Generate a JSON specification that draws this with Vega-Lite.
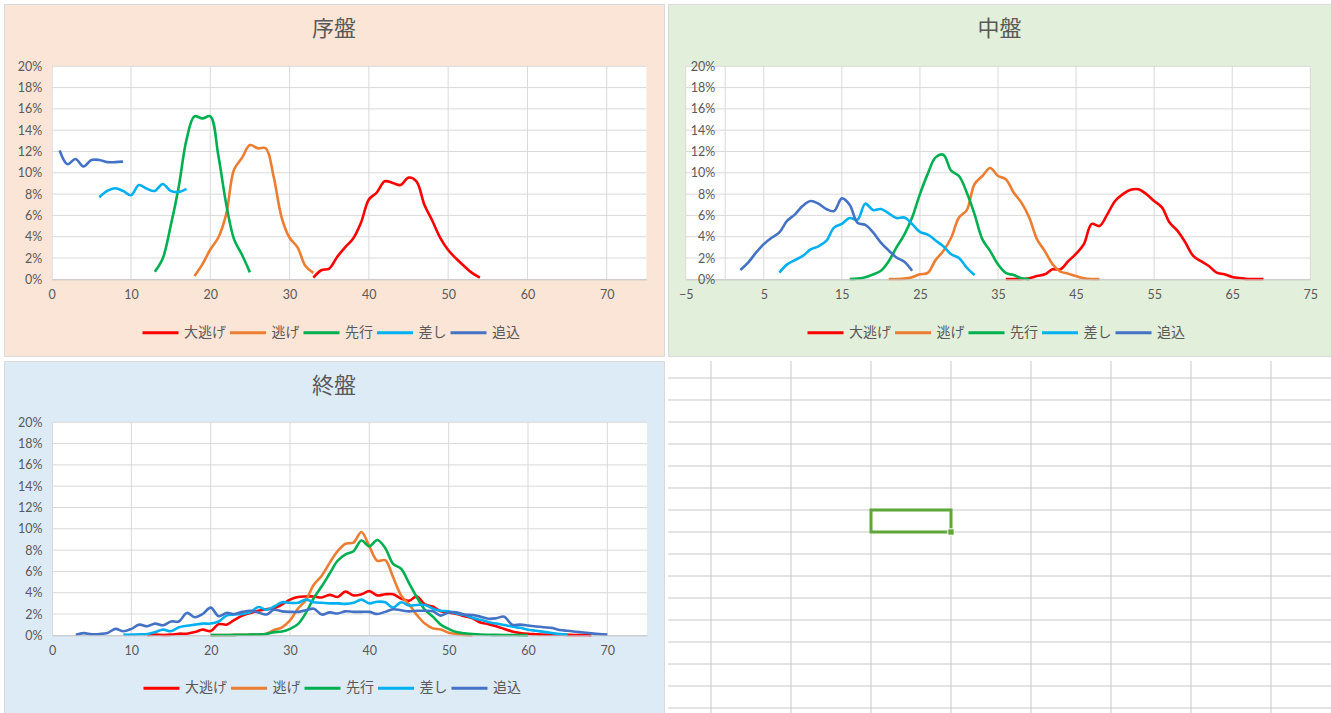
{
"$schema": "https://vega.github.io/schema/vega-lite/v6.json",
"background": "white",
"padding": {"left": 3, "top": 3, "right": 0, "bottom": 0},
"spacing": 3,
"resolve": {"scale": {"color": "independent"}, "legend": {"color": "independent"}},
"config": {
  "axis": {"grid": false, "ticks": false, "labelFont": "Lato", "labelFontSize": 12.5, "labelColor": "#595959", "domainColor": "#BFBFBF", "labelOverlap": false},
  "axisX": {"labelPadding": 9, "labelFlush": false},
  "axisY": {"labelPadding": 10, "domainColor": "#D9D9D9"},
  "legend": {"orient": "none", "direction": "horizontal", "columns": 5, "symbolType": "stroke", "symbolSize": 1296, "symbolStrokeWidth": 3, "labelFont": "Noto Sans CJK JP", "labelFontSize": 14, "labelColor": "#595959", "labelOffset": 4, "columnPadding": -2.5, "padding": 0},
  "title": {"font": "Noto Sans CJK JP", "fontSize": 22, "fontWeight": "normal", "color": "#595959", "baseline": "middle", "offset": -37, "anchor": "middle"}
},
"datasets": {
"s1": [
{"s":"大逃げ","x":33,"p":0.15},{"s":"大逃げ","x":34,"p":0.85},{"s":"大逃げ","x":35,"p":1.0},{"s":"大逃げ","x":36,"p":2.1},{"s":"大逃げ","x":37,"p":3.0},{"s":"大逃げ","x":38,"p":3.8},{"s":"大逃げ","x":39,"p":5.3},{"s":"大逃げ","x":40,"p":7.5},{"s":"大逃げ","x":41,"p":8.15},{"s":"大逃げ","x":42,"p":9.2},{"s":"大逃げ","x":43,"p":9.05},{"s":"大逃げ","x":44,"p":8.85},{"s":"大逃げ","x":45,"p":9.55},{"s":"大逃げ","x":46,"p":9.2},{"s":"大逃げ","x":47,"p":7.0},{"s":"大逃げ","x":48,"p":5.5},{"s":"大逃げ","x":49,"p":3.9},{"s":"大逃げ","x":50,"p":2.75},{"s":"大逃げ","x":51,"p":1.95},{"s":"大逃げ","x":52,"p":1.25},{"s":"大逃げ","x":53,"p":0.6},{"s":"大逃げ","x":54,"p":0.15},
{"s":"逃げ","x":18,"p":0.3},{"s":"逃げ","x":19,"p":1.4},{"s":"逃げ","x":20,"p":2.8},{"s":"逃げ","x":21,"p":3.9},{"s":"逃げ","x":22,"p":6.1},{"s":"逃げ","x":23,"p":10.3},{"s":"逃げ","x":24,"p":11.4},{"s":"逃げ","x":25,"p":12.6},{"s":"逃げ","x":26,"p":12.3},{"s":"逃げ","x":27,"p":12.3},{"s":"逃げ","x":28,"p":9.6},{"s":"逃げ","x":29,"p":5.8},{"s":"逃げ","x":30,"p":3.9},{"s":"逃げ","x":31,"p":3.0},{"s":"逃げ","x":32,"p":1.25},{"s":"逃げ","x":33,"p":0.6},
{"s":"先行","x":13,"p":0.7},{"s":"先行","x":14,"p":1.95},{"s":"先行","x":15,"p":5.0},{"s":"先行","x":16,"p":8.6},{"s":"先行","x":17,"p":13.1},{"s":"先行","x":18,"p":15.3},{"s":"先行","x":19,"p":15.1},{"s":"先行","x":20,"p":15.3},{"s":"先行","x":21,"p":11.7},{"s":"先行","x":22,"p":7.1},{"s":"先行","x":23,"p":3.75},{"s":"先行","x":24,"p":2.3},{"s":"先行","x":25,"p":0.65},
{"s":"差し","x":6,"p":7.7},{"s":"差し","x":7,"p":8.3},{"s":"差し","x":8,"p":8.55},{"s":"差し","x":9,"p":8.3},{"s":"差し","x":10,"p":7.9},{"s":"差し","x":11,"p":8.85},{"s":"差し","x":12,"p":8.5},{"s":"差し","x":13,"p":8.3},{"s":"差し","x":14,"p":8.95},{"s":"差し","x":15,"p":8.3},{"s":"差し","x":16,"p":8.2},{"s":"差し","x":17,"p":8.5},
{"s":"追込","x":1,"p":12.1},{"s":"追込","x":2,"p":10.8},{"s":"追込","x":3,"p":11.3},{"s":"追込","x":4,"p":10.6},{"s":"追込","x":5,"p":11.2},{"s":"追込","x":6,"p":11.2},{"s":"追込","x":7,"p":11.0},{"s":"追込","x":8,"p":11.0},{"s":"追込","x":9,"p":11.05}
],
"s2": [
{"s":"大逃げ","x":36,"p":0.03},{"s":"大逃げ","x":37,"p":0.03},{"s":"大逃げ","x":38,"p":0.03},{"s":"大逃げ","x":39,"p":0.1},{"s":"大逃げ","x":40,"p":0.3},{"s":"大逃げ","x":41,"p":0.47},{"s":"大逃げ","x":42,"p":0.94},{"s":"大逃げ","x":43,"p":0.94},{"s":"大逃げ","x":44,"p":1.7},{"s":"大逃げ","x":45,"p":2.4},{"s":"大逃げ","x":46,"p":3.3},{"s":"大逃げ","x":47,"p":5.2},{"s":"大逃げ","x":48,"p":5.0},{"s":"大逃げ","x":49,"p":6.1},{"s":"大逃げ","x":50,"p":7.35},{"s":"大逃げ","x":51,"p":8.0},{"s":"大逃げ","x":52,"p":8.4},{"s":"大逃げ","x":53,"p":8.45},{"s":"大逃げ","x":54,"p":8.0},{"s":"大逃げ","x":55,"p":7.35},{"s":"大逃げ","x":56,"p":6.75},{"s":"大逃げ","x":57,"p":5.3},{"s":"大逃げ","x":58,"p":4.55},{"s":"大逃げ","x":59,"p":3.45},{"s":"大逃げ","x":60,"p":2.2},{"s":"大逃げ","x":61,"p":1.7},{"s":"大逃げ","x":62,"p":1.25},{"s":"大逃げ","x":63,"p":0.63},{"s":"大逃げ","x":64,"p":0.47},{"s":"大逃げ","x":65,"p":0.22},{"s":"大逃げ","x":66,"p":0.12},{"s":"大逃げ","x":67,"p":0.03},{"s":"大逃げ","x":68,"p":0.03},{"s":"大逃げ","x":69,"p":0.03},
{"s":"逃げ","x":21,"p":0.03},{"s":"逃げ","x":22,"p":0.03},{"s":"逃げ","x":23,"p":0.06},{"s":"逃げ","x":24,"p":0.2},{"s":"逃げ","x":25,"p":0.47},{"s":"逃げ","x":26,"p":0.6},{"s":"逃げ","x":27,"p":1.8},{"s":"逃げ","x":28,"p":2.65},{"s":"逃げ","x":29,"p":3.9},{"s":"逃げ","x":30,"p":5.8},{"s":"逃げ","x":31,"p":6.5},{"s":"逃げ","x":32,"p":8.95},{"s":"逃げ","x":33,"p":9.7},{"s":"逃げ","x":34,"p":10.45},{"s":"逃げ","x":35,"p":9.7},{"s":"逃げ","x":36,"p":9.4},{"s":"逃げ","x":37,"p":8.15},{"s":"逃げ","x":38,"p":7.2},{"s":"逃げ","x":39,"p":5.8},{"s":"逃げ","x":40,"p":3.75},{"s":"逃げ","x":41,"p":2.65},{"s":"逃げ","x":42,"p":1.4},{"s":"逃げ","x":43,"p":0.72},{"s":"逃げ","x":44,"p":0.53},{"s":"逃げ","x":45,"p":0.3},{"s":"逃げ","x":46,"p":0.1},{"s":"逃げ","x":47,"p":0.03},{"s":"逃げ","x":48,"p":0.03},
{"s":"先行","x":16,"p":0.03},{"s":"先行","x":17,"p":0.06},{"s":"先行","x":18,"p":0.2},{"s":"先行","x":19,"p":0.45},{"s":"先行","x":20,"p":0.8},{"s":"先行","x":21,"p":1.7},{"s":"先行","x":22,"p":3.0},{"s":"先行","x":23,"p":4.2},{"s":"先行","x":24,"p":5.8},{"s":"先行","x":25,"p":8.0},{"s":"先行","x":26,"p":9.9},{"s":"先行","x":27,"p":11.45},{"s":"先行","x":28,"p":11.7},{"s":"先行","x":29,"p":10.2},{"s":"先行","x":30,"p":9.7},{"s":"先行","x":31,"p":8.15},{"s":"先行","x":32,"p":6.1},{"s":"先行","x":33,"p":3.75},{"s":"先行","x":34,"p":2.65},{"s":"先行","x":35,"p":1.4},{"s":"先行","x":36,"p":0.6},{"s":"先行","x":37,"p":0.4},{"s":"先行","x":38,"p":0.1},{"s":"先行","x":39,"p":0.02},
{"s":"差し","x":7,"p":0.63},{"s":"差し","x":8,"p":1.4},{"s":"差し","x":9,"p":1.8},{"s":"差し","x":10,"p":2.2},{"s":"差し","x":11,"p":2.8},{"s":"差し","x":12,"p":3.1},{"s":"差し","x":13,"p":3.6},{"s":"差し","x":14,"p":4.85},{"s":"差し","x":15,"p":5.2},{"s":"差し","x":16,"p":5.75},{"s":"差し","x":17,"p":5.6},{"s":"差し","x":18,"p":7.1},{"s":"差し","x":19,"p":6.5},{"s":"差し","x":20,"p":6.6},{"s":"差し","x":21,"p":6.2},{"s":"差し","x":22,"p":5.75},{"s":"差し","x":23,"p":5.8},{"s":"差し","x":24,"p":5.2},{"s":"差し","x":25,"p":4.45},{"s":"差し","x":26,"p":4.2},{"s":"差し","x":27,"p":3.65},{"s":"差し","x":28,"p":3.1},{"s":"差し","x":29,"p":2.35},{"s":"差し","x":30,"p":2.0},{"s":"差し","x":31,"p":1.1},{"s":"差し","x":32,"p":0.4},
{"s":"追込","x":2,"p":0.88},{"s":"追込","x":3,"p":1.57},{"s":"追込","x":4,"p":2.5},{"s":"追込","x":5,"p":3.3},{"s":"追込","x":6,"p":3.9},{"s":"追込","x":7,"p":4.4},{"s":"追込","x":8,"p":5.5},{"s":"追込","x":9,"p":6.1},{"s":"追込","x":10,"p":6.9},{"s":"追込","x":11,"p":7.35},{"s":"追込","x":12,"p":7.1},{"s":"追込","x":13,"p":6.6},{"s":"追込","x":14,"p":6.4},{"s":"追込","x":15,"p":7.6},{"s":"追込","x":16,"p":7.0},{"s":"追込","x":17,"p":5.3},{"s":"追込","x":18,"p":5.1},{"s":"追込","x":19,"p":4.4},{"s":"追込","x":20,"p":3.45},{"s":"追込","x":21,"p":2.7},{"s":"追込","x":22,"p":2.05},{"s":"追込","x":23,"p":1.65},{"s":"追込","x":24,"p":0.8}
],
"s3": [
{"s":"大逃げ","x":12,"p":0.03},{"s":"大逃げ","x":13,"p":0.06},{"s":"大逃げ","x":14,"p":0.03},{"s":"大逃げ","x":15,"p":0.06},{"s":"大逃げ","x":16,"p":0.15},{"s":"大逃げ","x":17,"p":0.15},{"s":"大逃げ","x":18,"p":0.3},{"s":"大逃げ","x":19,"p":0.53},{"s":"大逃げ","x":20,"p":0.4},{"s":"大逃げ","x":21,"p":1.05},{"s":"大逃げ","x":22,"p":1.0},{"s":"大逃げ","x":23,"p":1.45},{"s":"大逃げ","x":24,"p":1.85},{"s":"大逃げ","x":25,"p":2.1},{"s":"大逃げ","x":26,"p":2.3},{"s":"大逃げ","x":27,"p":2.45},{"s":"大逃げ","x":28,"p":2.55},{"s":"大逃げ","x":29,"p":2.9},{"s":"大逃げ","x":30,"p":3.35},{"s":"大逃げ","x":31,"p":3.6},{"s":"大逃げ","x":32,"p":3.65},{"s":"大逃げ","x":33,"p":3.65},{"s":"大逃げ","x":34,"p":3.55},{"s":"大逃げ","x":35,"p":3.8},{"s":"大逃げ","x":36,"p":3.6},{"s":"大逃げ","x":37,"p":4.1},{"s":"大逃げ","x":38,"p":3.75},{"s":"大逃げ","x":39,"p":3.85},{"s":"大逃げ","x":40,"p":4.15},{"s":"大逃げ","x":41,"p":3.75},{"s":"大逃げ","x":42,"p":3.85},{"s":"大逃げ","x":43,"p":3.85},{"s":"大逃げ","x":44,"p":3.45},{"s":"大逃げ","x":45,"p":3.25},{"s":"大逃げ","x":46,"p":3.65},{"s":"大逃げ","x":47,"p":2.9},{"s":"大逃げ","x":48,"p":2.7},{"s":"大逃げ","x":49,"p":2.25},{"s":"大逃げ","x":50,"p":2.15},{"s":"大逃げ","x":51,"p":2.0},{"s":"大逃げ","x":52,"p":1.8},{"s":"大逃げ","x":53,"p":1.6},{"s":"大逃げ","x":54,"p":1.2},{"s":"大逃げ","x":55,"p":1.05},{"s":"大逃げ","x":56,"p":0.85},{"s":"大逃げ","x":57,"p":0.6},{"s":"大逃げ","x":58,"p":0.36},{"s":"大逃げ","x":59,"p":0.22},{"s":"大逃げ","x":60,"p":0.14},{"s":"大逃げ","x":61,"p":0.1},{"s":"大逃げ","x":62,"p":0.06},{"s":"大逃げ","x":63,"p":0.05},{"s":"大逃げ","x":64,"p":0.05},{"s":"大逃げ","x":65,"p":0.04},{"s":"大逃げ","x":66,"p":0.03},{"s":"大逃げ","x":67,"p":0.03},{"s":"大逃げ","x":68,"p":0.02},
{"s":"逃げ","x":20,"p":0.02},{"s":"逃げ","x":21,"p":0.03},{"s":"逃げ","x":22,"p":0.03},{"s":"逃げ","x":23,"p":0.04},{"s":"逃げ","x":24,"p":0.05},{"s":"逃げ","x":25,"p":0.06},{"s":"逃げ","x":26,"p":0.08},{"s":"逃げ","x":27,"p":0.15},{"s":"逃げ","x":28,"p":0.5},{"s":"逃げ","x":29,"p":0.75},{"s":"逃げ","x":30,"p":1.4},{"s":"逃げ","x":31,"p":2.5},{"s":"逃げ","x":32,"p":3.3},{"s":"逃げ","x":33,"p":4.75},{"s":"逃げ","x":34,"p":5.6},{"s":"逃げ","x":35,"p":6.8},{"s":"逃げ","x":36,"p":7.9},{"s":"逃げ","x":37,"p":8.6},{"s":"逃げ","x":38,"p":8.7},{"s":"逃げ","x":39,"p":9.7},{"s":"逃げ","x":40,"p":8.35},{"s":"逃げ","x":41,"p":7.0},{"s":"逃げ","x":42,"p":7.05},{"s":"逃げ","x":43,"p":5.45},{"s":"逃げ","x":44,"p":3.75},{"s":"逃げ","x":45,"p":2.9},{"s":"逃げ","x":46,"p":1.9},{"s":"逃げ","x":47,"p":1.1},{"s":"逃げ","x":48,"p":0.65},{"s":"逃げ","x":49,"p":0.55},{"s":"逃げ","x":50,"p":0.25},{"s":"逃げ","x":51,"p":0.12},{"s":"逃げ","x":52,"p":0.04},{"s":"逃げ","x":53,"p":0.02},
{"s":"先行","x":20,"p":0.03},{"s":"先行","x":21,"p":0.03},{"s":"先行","x":22,"p":0.03},{"s":"先行","x":23,"p":0.04},{"s":"先行","x":24,"p":0.05},{"s":"先行","x":25,"p":0.06},{"s":"先行","x":26,"p":0.08},{"s":"先行","x":27,"p":0.12},{"s":"先行","x":28,"p":0.3},{"s":"先行","x":29,"p":0.35},{"s":"先行","x":30,"p":0.6},{"s":"先行","x":31,"p":1.05},{"s":"先行","x":32,"p":2.1},{"s":"先行","x":33,"p":3.5},{"s":"先行","x":34,"p":4.6},{"s":"先行","x":35,"p":5.8},{"s":"先行","x":36,"p":7.0},{"s":"先行","x":37,"p":7.6},{"s":"先行","x":38,"p":7.9},{"s":"先行","x":39,"p":8.9},{"s":"先行","x":40,"p":8.35},{"s":"先行","x":41,"p":8.95},{"s":"先行","x":42,"p":8.2},{"s":"先行","x":43,"p":6.7},{"s":"先行","x":44,"p":6.25},{"s":"先行","x":45,"p":4.9},{"s":"先行","x":46,"p":3.55},{"s":"先行","x":47,"p":2.4},{"s":"先行","x":48,"p":1.75},{"s":"先行","x":49,"p":1.0},{"s":"先行","x":50,"p":0.6},{"s":"先行","x":51,"p":0.3},{"s":"先行","x":52,"p":0.2},{"s":"先行","x":53,"p":0.12},{"s":"先行","x":54,"p":0.07},{"s":"先行","x":55,"p":0.05},{"s":"先行","x":56,"p":0.04},{"s":"先行","x":57,"p":0.03},{"s":"先行","x":58,"p":0.03},{"s":"先行","x":59,"p":0.02},{"s":"先行","x":60,"p":0.02},
{"s":"差し","x":9,"p":0.06},{"s":"差し","x":10,"p":0.06},{"s":"差し","x":11,"p":0.1},{"s":"差し","x":12,"p":0.12},{"s":"差し","x":13,"p":0.3},{"s":"差し","x":14,"p":0.53},{"s":"差し","x":15,"p":0.38},{"s":"差し","x":16,"p":0.75},{"s":"差し","x":17,"p":0.9},{"s":"差し","x":18,"p":1.0},{"s":"差し","x":19,"p":1.1},{"s":"差し","x":20,"p":1.1},{"s":"差し","x":21,"p":1.3},{"s":"差し","x":22,"p":1.85},{"s":"差し","x":23,"p":1.95},{"s":"差し","x":24,"p":2.0},{"s":"差し","x":25,"p":2.15},{"s":"差し","x":26,"p":2.65},{"s":"差し","x":27,"p":2.4},{"s":"差し","x":28,"p":2.7},{"s":"差し","x":29,"p":3.1},{"s":"差し","x":30,"p":3.05},{"s":"差し","x":31,"p":3.05},{"s":"差し","x":32,"p":3.35},{"s":"差し","x":33,"p":3.1},{"s":"差し","x":34,"p":3.05},{"s":"差し","x":35,"p":3.0},{"s":"差し","x":36,"p":3.0},{"s":"差し","x":37,"p":2.95},{"s":"差し","x":38,"p":3.05},{"s":"差し","x":39,"p":3.35},{"s":"差し","x":40,"p":3.0},{"s":"差し","x":41,"p":3.15},{"s":"差し","x":42,"p":3.1},{"s":"差し","x":43,"p":2.6},{"s":"差し","x":44,"p":3.1},{"s":"差し","x":45,"p":2.8},{"s":"差し","x":46,"p":2.85},{"s":"差し","x":47,"p":2.85},{"s":"差し","x":48,"p":2.5},{"s":"差し","x":49,"p":2.3},{"s":"差し","x":50,"p":2.25},{"s":"差し","x":51,"p":2.05},{"s":"差し","x":52,"p":1.9},{"s":"差し","x":53,"p":1.65},{"s":"差し","x":54,"p":1.45},{"s":"差し","x":55,"p":1.25},{"s":"差し","x":56,"p":1.1},{"s":"差し","x":57,"p":0.97},{"s":"差し","x":58,"p":0.82},{"s":"差し","x":59,"p":0.7},{"s":"差し","x":60,"p":0.53},{"s":"差し","x":61,"p":0.43},{"s":"差し","x":62,"p":0.32},{"s":"差し","x":63,"p":0.21},{"s":"差し","x":64,"p":0.11},{"s":"差し","x":65,"p":0.06},
{"s":"追込","x":3,"p":0.05},{"s":"追込","x":4,"p":0.2},{"s":"追込","x":5,"p":0.1},{"s":"追込","x":6,"p":0.12},{"s":"追込","x":7,"p":0.22},{"s":"追込","x":8,"p":0.6},{"s":"追込","x":9,"p":0.38},{"s":"追込","x":10,"p":0.6},{"s":"追込","x":11,"p":1.0},{"s":"追込","x":12,"p":0.85},{"s":"追込","x":13,"p":1.1},{"s":"追込","x":14,"p":0.94},{"s":"追込","x":15,"p":1.3},{"s":"追込","x":16,"p":1.3},{"s":"追込","x":17,"p":2.1},{"s":"追込","x":18,"p":1.7},{"s":"追込","x":19,"p":2.0},{"s":"追込","x":20,"p":2.6},{"s":"追込","x":21,"p":1.8},{"s":"追込","x":22,"p":2.1},{"s":"追込","x":23,"p":2.0},{"s":"追込","x":24,"p":2.2},{"s":"追込","x":25,"p":2.3},{"s":"追込","x":26,"p":2.15},{"s":"追込","x":27,"p":1.95},{"s":"追込","x":28,"p":2.4},{"s":"追込","x":29,"p":2.25},{"s":"追込","x":30,"p":2.2},{"s":"追込","x":31,"p":2.2},{"s":"追込","x":32,"p":2.35},{"s":"追込","x":33,"p":2.5},{"s":"追込","x":34,"p":1.95},{"s":"追込","x":35,"p":2.15},{"s":"追込","x":36,"p":2.05},{"s":"追込","x":37,"p":2.25},{"s":"追込","x":38,"p":2.2},{"s":"追込","x":39,"p":2.2},{"s":"追込","x":40,"p":2.2},{"s":"追込","x":41,"p":2.0},{"s":"追込","x":42,"p":2.2},{"s":"追込","x":43,"p":2.45},{"s":"追込","x":44,"p":2.35},{"s":"追込","x":45,"p":2.25},{"s":"追込","x":46,"p":2.3},{"s":"追込","x":47,"p":2.3},{"s":"追込","x":48,"p":2.25},{"s":"追込","x":49,"p":1.85},{"s":"追込","x":50,"p":2.15},{"s":"追込","x":51,"p":2.15},{"s":"追込","x":52,"p":1.95},{"s":"追込","x":53,"p":1.9},{"s":"追込","x":54,"p":1.75},{"s":"追込","x":55,"p":1.55},{"s":"追込","x":56,"p":1.6},{"s":"追込","x":57,"p":1.75},{"s":"追込","x":58,"p":1.0},{"s":"追込","x":59,"p":1.0},{"s":"追込","x":60,"p":0.92},{"s":"追込","x":61,"p":0.82},{"s":"追込","x":62,"p":0.75},{"s":"追込","x":63,"p":0.7},{"s":"追込","x":64,"p":0.5},{"s":"追込","x":65,"p":0.42},{"s":"追込","x":66,"p":0.34},{"s":"追込","x":67,"p":0.26},{"s":"追込","x":68,"p":0.18},{"s":"追込","x":69,"p":0.11},{"s":"追込","x":70,"p":0.06}
]
},
"vconcat": [
{"spacing": 2, "resolve": {"scale": {"color": "independent"}, "legend": {"color": "independent"}}, "hconcat": [
{
 "width": 660, "height": 352,
 "view": {"fill": "#FBE5D6", "stroke": "#D9D9D9"},
 "title": "序盤",
 "layer": [
  {"data": {"values": [{}]}, "mark": {"type": "rect", "fill": "#FFFFFF"},
   "encoding": {
    "x": {"datum": 0, "type": "quantitative", "scale": {"domain": [0, 75], "range": [47.7, 642.4], "nice": false, "zero": false}, "axis": {"title": null, "zindex": 1, "offset": -76.7, "values": [0,10,20,30,40,50,60,70]}},
    "x2": {"datum": 75},
    "y": {"datum": 0, "type": "quantitative", "scale": {"domain": [0, 20], "range": [275.3, 62.3], "nice": false, "zero": false}, "axis": {"title": null, "zindex": 1, "offset": -47.7, "values": [0,2,4,6,8,10,12,14,16,18,20], "labelExpr": "datum.value + '%'"}},
    "y2": {"datum": 20}}},
  {"data": {"values": [{"g":10},{"g":20},{"g":30},{"g":40},{"g":50},{"g":60},{"g":70}]}, "mark": {"type": "rule", "color": "#D9D9D9", "strokeWidth": 1},
   "encoding": {
    "x": {"field": "g", "type": "quantitative", "scale": {"domain": [0, 75], "range": [47.7, 642.4], "nice": false, "zero": false}, "axis": {"title": null, "zindex": 1, "offset": -76.7, "values": [0,10,20,30,40,50,60,70]}},
    "y": {"datum": 0, "type": "quantitative", "scale": {"domain": [0, 20], "range": [275.3, 62.3], "nice": false, "zero": false}, "axis": {"title": null, "zindex": 1, "offset": -47.7, "values": [0,2,4,6,8,10,12,14,16,18,20], "labelExpr": "datum.value + '%'"}},
    "y2": {"datum": 20}}},
  {"data": {"values": [{"g":2},{"g":4},{"g":6},{"g":8},{"g":10},{"g":12},{"g":14},{"g":16},{"g":18},{"g":20}]}, "mark": {"type": "rule", "color": "#D9D9D9", "strokeWidth": 1},
   "encoding": {
    "y": {"field": "g", "type": "quantitative", "scale": {"domain": [0, 20], "range": [275.3, 62.3], "nice": false, "zero": false}, "axis": {"title": null, "zindex": 1, "offset": -47.7, "values": [0,2,4,6,8,10,12,14,16,18,20], "labelExpr": "datum.value + '%'"}},
    "x": {"datum": 0, "type": "quantitative", "scale": {"domain": [0, 75], "range": [47.7, 642.4], "nice": false, "zero": false}, "axis": {"title": null, "zindex": 1, "offset": -76.7, "values": [0,10,20,30,40,50,60,70]}},
    "x2": {"datum": 75}}},
  {"data": {"name": "s1"}, "mark": {"type": "line", "strokeWidth": 2.6, "interpolate": "catmull-rom"},
   "encoding": {
    "x": {"field": "x", "type": "quantitative", "scale": {"domain": [0, 75], "range": [47.7, 642.4], "nice": false, "zero": false}, "axis": {"title": null, "zindex": 1, "offset": -76.7, "values": [0,10,20,30,40,50,60,70]}},
    "y": {"field": "p", "type": "quantitative", "scale": {"domain": [0, 20], "range": [275.3, 62.3], "nice": false, "zero": false}, "axis": {"title": null, "zindex": 1, "offset": -47.7, "values": [0,2,4,6,8,10,12,14,16,18,20], "labelExpr": "datum.value + '%'"}},
    "color": {"field": "s", "type": "nominal", "scale": {"domain": ["大逃げ","逃げ","先行","差し","追込"], "range": ["#FF0000","#ED7D31","#00B050","#00B0F0","#4472C4"]}, "legend": {"title": null, "legendX": 137, "legendY": 309}}}}
 ]
},
{
 "width": 663, "height": 352,
 "view": {"fill": "#E2EFDA", "stroke": "#D9D9D9"},
 "title": "中盤",
 "layer": [
  {"data": {"values": [{}]}, "mark": {"type": "rect", "fill": "#FFFFFF"},
   "encoding": {
    "x": {"datum": -5, "type": "quantitative", "scale": {"domain": [-5, 75], "range": [17.7, 642.3], "nice": false, "zero": false}, "axis": {"title": null, "zindex": 1, "offset": -76.7, "values": [-5,5,15,25,35,45,55,65,75]}},
    "x2": {"datum": 75},
    "y": {"datum": 0, "type": "quantitative", "scale": {"domain": [0, 20], "range": [275.3, 62.3], "nice": false, "zero": false}, "axis": {"title": null, "zindex": 1, "offset": -56.7, "values": [0,2,4,6,8,10,12,14,16,18,20], "labelExpr": "datum.value + '%'"}},
    "y2": {"datum": 20}}},
  {"data": {"values": [{"g":-5},{"g":5},{"g":15},{"g":25},{"g":35},{"g":45},{"g":55},{"g":65},{"g":75}]}, "mark": {"type": "rule", "color": "#D9D9D9", "strokeWidth": 1},
   "encoding": {
    "x": {"field": "g", "type": "quantitative", "scale": {"domain": [-5, 75], "range": [17.7, 642.3], "nice": false, "zero": false}, "axis": {"title": null, "zindex": 1, "offset": -76.7, "values": [-5,5,15,25,35,45,55,65,75]}},
    "y": {"datum": 0, "type": "quantitative", "scale": {"domain": [0, 20], "range": [275.3, 62.3], "nice": false, "zero": false}, "axis": {"title": null, "zindex": 1, "offset": -56.7, "values": [0,2,4,6,8,10,12,14,16,18,20], "labelExpr": "datum.value + '%'"}},
    "y2": {"datum": 20}}},
  {"data": {"values": [{"g":2},{"g":4},{"g":6},{"g":8},{"g":10},{"g":12},{"g":14},{"g":16},{"g":18},{"g":20}]}, "mark": {"type": "rule", "color": "#D9D9D9", "strokeWidth": 1},
   "encoding": {
    "y": {"field": "g", "type": "quantitative", "scale": {"domain": [0, 20], "range": [275.3, 62.3], "nice": false, "zero": false}, "axis": {"title": null, "zindex": 1, "offset": -56.7, "values": [0,2,4,6,8,10,12,14,16,18,20], "labelExpr": "datum.value + '%'"}},
    "x": {"datum": -5, "type": "quantitative", "scale": {"domain": [-5, 75], "range": [17.7, 642.3], "nice": false, "zero": false}, "axis": {"title": null, "zindex": 1, "offset": -76.7, "values": [-5,5,15,25,35,45,55,65,75]}},
    "x2": {"datum": 75}}},
  {"data": {"name": "s2"}, "mark": {"type": "line", "strokeWidth": 2.6, "interpolate": "catmull-rom"},
   "encoding": {
    "x": {"field": "x", "type": "quantitative", "scale": {"domain": [-5, 75], "range": [17.7, 642.3], "nice": false, "zero": false}, "axis": {"title": null, "zindex": 1, "offset": -76.7, "values": [-5,5,15,25,35,45,55,65,75]}},
    "y": {"field": "p", "type": "quantitative", "scale": {"domain": [0, 20], "range": [275.3, 62.3], "nice": false, "zero": false}, "axis": {"title": null, "zindex": 1, "offset": -56.7, "values": [0,2,4,6,8,10,12,14,16,18,20], "labelExpr": "datum.value + '%'"}},
    "color": {"field": "s", "type": "nominal", "scale": {"domain": ["大逃げ","逃げ","先行","差し","追込"], "range": ["#FF0000","#ED7D31","#00B050","#00B0F0","#4472C4"]}, "legend": {"title": null, "legendX": 138, "legendY": 309}}}}
 ]
}
]},
{"spacing": 2, "resolve": {"scale": {"color": "independent"}, "legend": {"color": "independent"}}, "hconcat": [
{
 "width": 660, "height": 352,
 "view": {"fill": "#DDEBF7", "stroke": "#D9D9D9"},
 "title": "終盤",
 "layer": [
  {"data": {"values": [{}]}, "mark": {"type": "rect", "fill": "#FFFFFF"},
   "encoding": {
    "x": {"datum": 0, "type": "quantitative", "scale": {"domain": [0, 75], "range": [48, 643], "nice": false, "zero": false}, "axis": {"title": null, "zindex": 1, "offset": -77.7, "values": [0,10,20,30,40,50,60,70]}},
    "x2": {"datum": 75},
    "y": {"datum": 0, "type": "quantitative", "scale": {"domain": [0, 20], "range": [274.3, 61.3], "nice": false, "zero": false}, "axis": {"title": null, "zindex": 1, "offset": -48, "values": [0,2,4,6,8,10,12,14,16,18,20], "labelExpr": "datum.value + '%'"}},
    "y2": {"datum": 20}}},
  {"data": {"values": [{"g":10},{"g":20},{"g":30},{"g":40},{"g":50},{"g":60},{"g":70}]}, "mark": {"type": "rule", "color": "#D9D9D9", "strokeWidth": 1},
   "encoding": {
    "x": {"field": "g", "type": "quantitative", "scale": {"domain": [0, 75], "range": [48, 643], "nice": false, "zero": false}, "axis": {"title": null, "zindex": 1, "offset": -77.7, "values": [0,10,20,30,40,50,60,70]}},
    "y": {"datum": 0, "type": "quantitative", "scale": {"domain": [0, 20], "range": [274.3, 61.3], "nice": false, "zero": false}, "axis": {"title": null, "zindex": 1, "offset": -48, "values": [0,2,4,6,8,10,12,14,16,18,20], "labelExpr": "datum.value + '%'"}},
    "y2": {"datum": 20}}},
  {"data": {"values": [{"g":2},{"g":4},{"g":6},{"g":8},{"g":10},{"g":12},{"g":14},{"g":16},{"g":18},{"g":20}]}, "mark": {"type": "rule", "color": "#D9D9D9", "strokeWidth": 1},
   "encoding": {
    "y": {"field": "g", "type": "quantitative", "scale": {"domain": [0, 20], "range": [274.3, 61.3], "nice": false, "zero": false}, "axis": {"title": null, "zindex": 1, "offset": -48, "values": [0,2,4,6,8,10,12,14,16,18,20], "labelExpr": "datum.value + '%'"}},
    "x": {"datum": 0, "type": "quantitative", "scale": {"domain": [0, 75], "range": [48, 643], "nice": false, "zero": false}, "axis": {"title": null, "zindex": 1, "offset": -77.7, "values": [0,10,20,30,40,50,60,70]}},
    "x2": {"datum": 75}}},
  {"data": {"name": "s3"}, "mark": {"type": "line", "strokeWidth": 2.6, "interpolate": "catmull-rom"},
   "encoding": {
    "x": {"field": "x", "type": "quantitative", "scale": {"domain": [0, 75], "range": [48, 643], "nice": false, "zero": false}, "axis": {"title": null, "zindex": 1, "offset": -77.7, "values": [0,10,20,30,40,50,60,70]}},
    "y": {"field": "p", "type": "quantitative", "scale": {"domain": [0, 20], "range": [274.3, 61.3], "nice": false, "zero": false}, "axis": {"title": null, "zindex": 1, "offset": -48, "values": [0,2,4,6,8,10,12,14,16,18,20], "labelExpr": "datum.value + '%'"}},
    "color": {"field": "s", "type": "nominal", "scale": {"domain": ["大逃げ","逃げ","先行","差し","追込"], "range": ["#FF0000","#ED7D31","#00B050","#00B0F0","#4472C4"]}, "legend": {"title": null, "legendX": 138, "legendY": 307.5}}}}
 ]
},
{
 "width": 666, "height": 355,
 "view": {"fill": "#FFFFFF", "stroke": null},
 "layer": [
  {"data": {"values": [{"c":0},{"c":1},{"c":2},{"c":3},{"c":4},{"c":5},{"c":6},{"c":7}]}, "mark": {"type": "rule", "color": "#C8C8C8", "strokeWidth": 1},
   "encoding": {"x": {"field": "c", "type": "quantitative", "scale": {"domain": [-0.5375, 7.7875], "range": [0, 666], "nice": false, "zero": false}, "axis": null}}},
  {"data": {"values": [{"r":0},{"r":1},{"r":2},{"r":3},{"r":4},{"r":5},{"r":6},{"r":7},{"r":8},{"r":9},{"r":10},{"r":11},{"r":12},{"r":13},{"r":14},{"r":15}]}, "mark": {"type": "rule", "color": "#C8C8C8", "strokeWidth": 1},
   "encoding": {"y": {"field": "r", "type": "quantitative", "scale": {"domain": [-0.7727, 15.3636], "range": [0, 355], "nice": false, "zero": false}, "axis": null}}},
  {"data": {"values": [{}]}, "mark": {"type": "rect", "filled": false, "color": "#5EA638", "strokeWidth": 3},
   "encoding": {
    "x": {"datum": 2, "type": "quantitative", "scale": {"domain": [-0.5375, 7.7875], "range": [0, 666], "nice": false, "zero": false}, "axis": null},
    "x2": {"datum": 3},
    "y": {"datum": 6, "type": "quantitative", "scale": {"domain": [-0.7727, 15.3636], "range": [0, 355], "nice": false, "zero": false}, "axis": null},
    "y2": {"datum": 7}}},
  {"data": {"values": [{}]}, "mark": {"type": "square", "filled": true, "color": "#5EA638", "stroke": "#FFFFFF", "strokeWidth": 1, "size": 40, "opacity": 1},
   "encoding": {
    "x": {"datum": 3, "type": "quantitative", "scale": {"domain": [-0.5375, 7.7875], "range": [0, 666], "nice": false, "zero": false}, "axis": null},
    "y": {"datum": 7, "type": "quantitative", "scale": {"domain": [-0.7727, 15.3636], "range": [0, 355], "nice": false, "zero": false}, "axis": null}}}
 ]
}
]}
]
}
